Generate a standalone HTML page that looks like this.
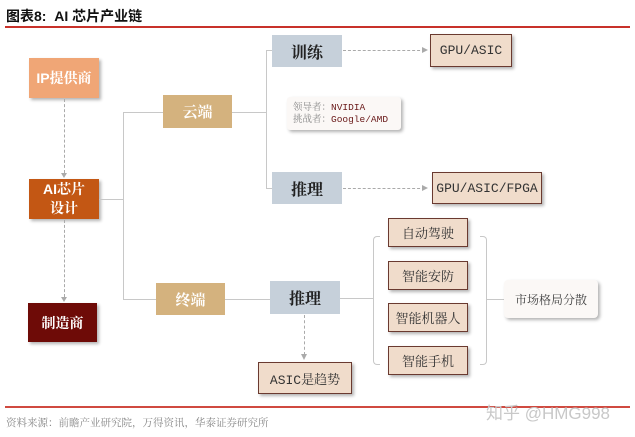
<!DOCTYPE html>
<html><head><meta charset="utf-8"><style>
body{margin:0;width:635px;height:437px;background:#fff;position:relative;overflow:hidden;font-family:"Liberation Sans","Noto Serif CJK SC","Noto Sans CJK SC",sans-serif;}
.b{position:absolute;display:flex;align-items:center;justify-content:center;box-sizing:border-box;}
.sh{box-shadow:2px 2px 3px rgba(0,0,0,.3);}
.w{color:#fff;font-weight:bold;font-size:14px;}
.g{background:#c6d0da;font-weight:bold;font-size:16px;color:#222;}
.t{background:#f0dccb;border:1.5px solid #6a3a30;font-size:13px;color:#333;font-family:"Liberation Mono","Noto Serif CJK SC",monospace;}
.l{position:absolute;background:#c8c8c8;}
</style></head><body>
<div style="position:absolute;left:6px;top:6px;font-size:14px;font-weight:bold;color:#111;font-family:'Liberation Sans','Noto Sans CJK SC',sans-serif">图表8:&nbsp; AI 芯片产业链</div>
<div style="position:absolute;left:5px;top:26px;width:625px;height:2px;background:#c8312a"></div>

<div class="b w sh" style="left:29px;top:58px;width:70px;height:40px;background:#f0a676">IP提供商</div>
<div class="b w sh" style="left:29px;top:179px;width:70px;height:40px;background:#c35714;line-height:19px;text-align:center">AI芯片<br>设计</div>
<div class="b w sh" style="left:28px;top:303px;width:69px;height:39px;background:#6e0b07">制造商</div>
<div style="position:absolute;left:64px;top:99px;height:74px;border-left:1px dashed #aaa"></div>
<div style="position:absolute;left:61px;top:173px;border-top:5px solid #aaa;border-left:3px solid transparent;border-right:3px solid transparent"></div>
<div style="position:absolute;left:64px;top:220px;height:77px;border-left:1px dashed #aaa"></div>
<div style="position:absolute;left:61px;top:297px;border-top:5px solid #aaa;border-left:3px solid transparent;border-right:3px solid transparent"></div>

<div class="l" style="left:99px;top:199px;width:24px;height:1px"></div>
<div class="l" style="left:123px;top:112px;width:1px;height:188px"></div>
<div class="l" style="left:123px;top:112px;width:40px;height:1px"></div>
<div class="l" style="left:123px;top:299px;width:33px;height:1px"></div>
<div class="b w" style="left:163px;top:95px;width:69px;height:33px;background:#d4b27e;font-size:15px">云端</div>
<div class="b w" style="left:156px;top:283px;width:69px;height:32px;background:#d4b27e;font-size:15px">终端</div>

<div class="l" style="left:232px;top:112px;width:34px;height:1px"></div>
<div class="l" style="left:266px;top:50px;width:1px;height:139px"></div>
<div class="l" style="left:266px;top:50px;width:6px;height:1px"></div>
<div class="l" style="left:266px;top:188px;width:6px;height:1px"></div>
<div class="b g" style="left:272px;top:35px;width:70px;height:32px">训练</div>
<div class="b g" style="left:272px;top:172px;width:70px;height:32px">推理</div>
<div class="b sh" style="left:287px;top:97px;width:114px;height:33px;background:#fbf8f6;border-radius:3px;font-size:9.5px;line-height:12px;color:#6a1a1a;flex-direction:column;align-items:flex-start;padding-left:6px;font-family:'Liberation Mono','Noto Serif CJK SC',monospace"><div><span style="color:#888">领导者：</span>NVIDIA</div><div><span style="color:#888">挑战者：</span>Google/AMD</div></div>
<div style="position:absolute;left:343px;top:50px;width:82px;border-top:1px dashed #aaa"></div>
<div style="position:absolute;left:422px;top:47px;border-left:6px solid #aaa;border-top:3px solid transparent;border-bottom:3px solid transparent"></div>
<div style="position:absolute;left:343px;top:188px;width:82px;border-top:1px dashed #aaa"></div>
<div style="position:absolute;left:422px;top:185px;border-left:6px solid #aaa;border-top:3px solid transparent;border-bottom:3px solid transparent"></div>
<div class="b t sh" style="left:430px;top:34px;width:82px;height:33px">GPU/ASIC</div>
<div class="b t sh" style="left:432px;top:172px;width:110px;height:32px">GPU/ASIC/FPGA</div>

<div class="l" style="left:225px;top:299px;width:45px;height:1px"></div>
<div class="b g" style="left:270px;top:281px;width:70px;height:33px">推理</div>
<div style="position:absolute;left:304px;top:315px;height:40px;border-left:1px dashed #aaa"></div>
<div style="position:absolute;left:301px;top:354px;border-top:6px solid #aaa;border-left:3px solid transparent;border-right:3px solid transparent"></div>
<div class="b t sh" style="left:258px;top:362px;width:94px;height:32px">ASIC是趋势</div>

<div class="l" style="left:340px;top:298px;width:33px;height:1px"></div>
<div style="position:absolute;left:373px;top:236px;width:6px;height:127px;border:1px solid #c8c8c8;border-right:none;border-radius:4px 0 0 4px"></div>
<div class="b t sh" style="left:388px;top:218px;width:80px;height:29px">自动驾驶</div>
<div class="b t sh" style="left:388px;top:261px;width:80px;height:29px">智能安防</div>
<div class="b t sh" style="left:388px;top:303px;width:80px;height:29px">智能机器人</div>
<div class="b t sh" style="left:388px;top:346px;width:80px;height:29px">智能手机</div>
<div style="position:absolute;left:480px;top:236px;width:6px;height:127px;border:1px solid #c8c8c8;border-left:none;border-radius:0 4px 4px 0"></div>
<div class="l" style="left:487px;top:299px;width:17px;height:1px"></div>
<div class="b sh" style="left:504px;top:280px;width:94px;height:38px;background:#fbf8f6;border-radius:4px;font-size:12px;color:#444">市场格局分散</div>

<div style="position:absolute;left:5px;top:406px;width:625px;height:2px;background:#d04a40"></div>
<div style="position:absolute;left:6px;top:415px;font-size:10.5px;color:#888">资料来源：前瞻产业研究院，万得资讯，华泰证券研究所</div>
<div style="position:absolute;left:486px;top:399px;font-size:17px;color:#c8c8c8;font-family:'Liberation Sans','Noto Sans CJK SC',sans-serif">知乎 @HMG998</div>
</body></html>
